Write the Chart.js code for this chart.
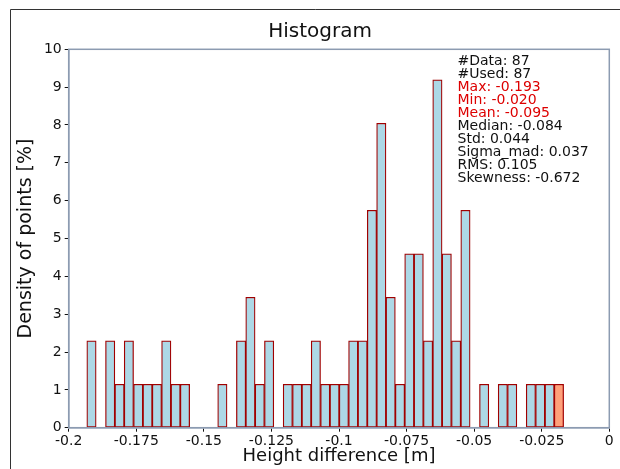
<!DOCTYPE html>
<html>
<head>
<meta charset="utf-8">
<script src="https://cdn.jsdelivr.net/npm/chart.js@4/dist/chart.umd.min.js"></script>
<style>
  html, body { margin: 0; padding: 0; background: #fff; }
  #grafica { display: block; }
</style>
</head>
<body>
<canvas id="grafica" width="620" height="469"></canvas>
<script>
// counts per bin (87 points, 51 bins)
const conteos = [2, 0, 2, 1, 2, 1, 1, 1, 2, 1, 1, 0, 0, 0, 1, 0, 2, 3, 1, 2,
                 0, 1, 1, 1, 2, 1, 1, 1, 2, 2, 5, 7, 3, 1, 4, 4, 2, 8, 4, 2,
                 5, 0, 1, 0, 1, 1, 0, 1, 1, 1, 1];
const totalPuntos = 87;
const inicioBins = -0.1933;
const finBins = -0.0169;

const ticksX = [-0.2, -0.175, -0.15, -0.125, -0.1, -0.075, -0.05, -0.025, 0];
const ticksY = [0, 1, 2, 3, 4, 5, 6, 7, 8, 9, 10];

const estadisticas = ['#Data: 87', '#Used: 87', 'Max: -0.193', 'Min: -0.020', 'Mean: -0.095',
                      'Median: -0.084', 'Std: 0.044', 'Sigma_mad: 0.037', 'RMS: 0.105', 'Skewness: -0.672'];
const enRojo = ['Max: -0.193', 'Min: -0.020', 'Mean: -0.095'];

const fuente = '"DejaVu Sans", Verdana, sans-serif';
const colorEje = '#8c9bb1';

// bin centers from the bin range
const anchoBin = (finBins - inicioBins) / conteos.length;
const datos = conteos.map((c, i) => ({
  x: inicioBins + (i + 0.5) * anchoBin,
  y: c / totalPuntos * 100
}));

const decorado = {
  id: 'decorado',
  afterDraw(chart) {
    const ctx = chart.ctx;
    const area = chart.chartArea;
    ctx.save();
    // outer frame (only left and top are inside the picture)
    ctx.strokeStyle = '#333';
    ctx.lineWidth = 1;
    ctx.beginPath();
    ctx.moveTo(10.5, chart.height);
    ctx.lineTo(10.5, 9.5);
    ctx.lineTo(chart.width, 9.5);
    ctx.stroke();
    // plot frame
    ctx.strokeStyle = colorEje;
    ctx.lineWidth = 1.5;
    ctx.strokeRect(area.left, area.top, area.right - area.left, area.bottom - area.top);
    // title
    ctx.fillStyle = '#111';
    ctx.font = '20px ' + fuente;
    ctx.textAlign = 'center';
    ctx.textBaseline = 'alphabetic';
    ctx.fillText('Histogram', 320, 37);
    // stats
    ctx.font = '14px ' + fuente;
    ctx.textAlign = 'left';
    estadisticas.forEach((linea, i) => {
      ctx.fillStyle = enRojo.includes(linea) ? '#dd0000' : '#111';
      ctx.fillText(linea, 457.5, 65 + i * 13);
    });
    ctx.restore();
  }
};

new Chart(document.getElementById('grafica'), {
  type: 'bar',
  data: {
    datasets: [{
      data: datos,
      backgroundColor: datos.map((d, i) => i === datos.length - 1 ? '#ffa07a' : '#add8e6'),
      borderColor: '#a00000',
      borderWidth: ctx => (ctx.raw && ctx.raw.y > 0) ? 1.25 : 0,
      borderSkipped: false,
      barPercentage: 1,
      categoryPercentage: 1
    }]
  },
  options: {
    responsive: false,
    animation: false,
    devicePixelRatio: 1,
    layout: { padding: { left: 0, right: 10.7, top: 49.3, bottom: 0 } },
    plugins: { legend: { display: false }, tooltip: { enabled: false }, title: { display: false } },
    scales: {
      x: {
        type: 'linear',
        min: -0.2,
        max: 0,
        offset: false,
        afterFit: s => { s.height = 41.3; },
        afterBuildTicks: s => { s.ticks = ticksX.map(v => ({ value: v })); },
        ticks: {
          font: { family: fuente, size: 14 },
          color: '#111',
          padding: 1,
          maxRotation: 0,
          autoSkip: false,
          callback: v => v === 0 ? '0' : String(parseFloat(v.toFixed(3)))
        },
        grid: { drawOnChartArea: false, offset: false, tickLength: 4, tickColor: '#111', tickWidth: 1 },
        border: { color: colorEje, width: 1.5 },
        title: {
          display: true,
          text: 'Height difference [m]',
          font: { family: fuente, size: 18 },
          color: '#111',
          padding: { top: 0, bottom: 2 }
        }
      },
      y: {
        min: 0,
        max: 10,
        afterFit: s => { s.width = 68.7; },
        afterBuildTicks: s => { s.ticks = ticksY.map(v => ({ value: v })); },
        ticks: {
          font: { family: fuente, size: 14 },
          color: '#111',
          padding: 3
        },
        grid: { drawOnChartArea: false, tickLength: 4, tickColor: '#111', tickWidth: 1 },
        border: { color: colorEje, width: 1.5 },
        title: {
          display: true,
          text: 'Density of points [%]',
          font: { family: fuente, size: 19 },
          color: '#111',
          padding: { top: 14.6, bottom: 0 }
        }
      }
    }
  },
  plugins: [decorado]
});
</script>
</body>
</html>
